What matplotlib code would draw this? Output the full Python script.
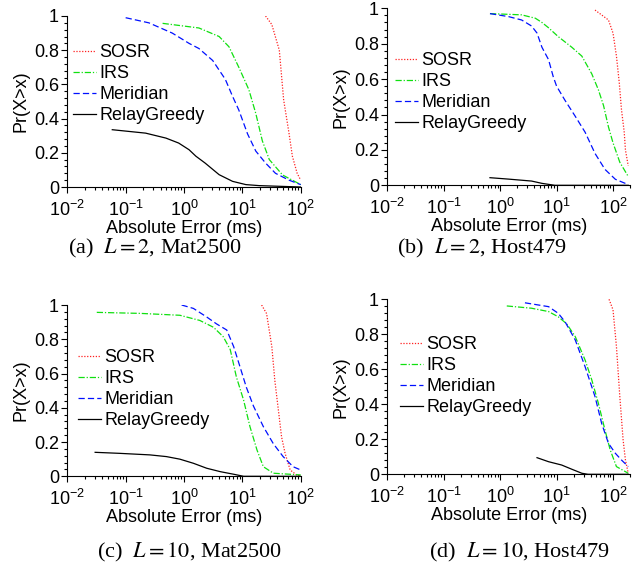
import numpy as np
import matplotlib
matplotlib.use("Agg")
import matplotlib.pyplot as plt
from matplotlib.ticker import MultipleLocator, FuncFormatter

plt.rcParams["font.family"] = ["Liberation Sans", "DejaVu Sans"]
plt.rcParams["mathtext.fontset"] = "stix"

# ---------------------------------------------------------------- data
# (a) L = 2, Mat2500
A_SOSR_X = [25, 32, 43, 51, 63, 72, 87, 100]
A_SOSR_Y = [1.0, 0.95, 0.80, 0.51, 0.315, 0.18, 0.08, 0.04]
A_IRS_X = [0.43, 1.8, 4.0, 5.9, 8.7, 12.9, 17, 22, 29, 49, 100]
A_IRS_Y = [0.957, 0.93, 0.88, 0.82, 0.70, 0.57, 0.43, 0.27, 0.16, 0.07, 0.014]
A_MER_X = [0.1, 0.25, 0.63, 1.22, 1.8, 3.1, 5.1, 6.8, 8.7, 12.3, 17, 25, 37, 63, 100]
A_MER_Y = [0.99, 0.96, 0.90, 0.84, 0.81, 0.74, 0.63, 0.53, 0.45, 0.31, 0.21, 0.14, 0.08, 0.04, 0.014]
A_RG_X = [0.059, 0.22, 0.49, 0.81, 1.22, 1.6, 2.3, 4.0, 6.8, 11.5, 19.5, 100]
A_RG_Y = [0.335, 0.315, 0.286, 0.257, 0.218, 0.18, 0.14, 0.072, 0.033, 0.014, 0.008, 0.0]

# (b) L = 2, Host479
B_SOSR_X = [48, 83, 100, 115, 129, 141, 158, 166, 186]
B_SOSR_Y = [0.99, 0.934, 0.86, 0.73, 0.58, 0.43, 0.30, 0.20, 0.11]
B_IRS_X = [0.66, 2.4, 4.2, 5.5, 7.2, 10.7, 18.6, 28, 42, 55, 68, 83, 100, 132, 186]
B_IRS_Y = [0.97, 0.963, 0.944, 0.92, 0.89, 0.84, 0.78, 0.73, 0.63, 0.54, 0.45, 0.33, 0.24, 0.13, 0.05]
B_MER_X = [0.66, 1.41, 2.4, 3.6, 4.5, 5.5, 7.2, 8.7, 10, 14.1, 21.4, 32, 48, 72, 110, 186]
B_MER_Y = [0.97, 0.953, 0.934, 0.90, 0.86, 0.78, 0.71, 0.615, 0.56, 0.48, 0.39, 0.30, 0.18, 0.09, 0.034, 0.004]
B_RG_X = [0.66, 1.4, 3.6, 5.5, 9.3, 186]
B_RG_Y = [0.043, 0.035, 0.024, 0.011, 0.0, 0.0]

# (c) L = 10, Mat2500
C_SOSR_X = [21.4, 26, 32, 36, 42, 47, 54, 66, 85, 100]
C_SOSR_Y = [1.0, 0.95, 0.757, 0.56, 0.37, 0.23, 0.134, 0.037, 0.008, 0.002]
C_IRS_X = [0.032, 0.18, 0.85, 1.86, 3.2, 4.7, 6.2, 7.9, 10.5, 13.5, 17.8, 22.9, 34, 100]
C_IRS_Y = [0.957, 0.951, 0.94, 0.91, 0.87, 0.815, 0.74, 0.58, 0.445, 0.29, 0.154, 0.056, 0.018, 0.008]
C_MER_X = [0.91, 1.45, 2.45, 3.6, 5.4, 7.1, 9.1, 11.7, 15.5, 22.9, 34, 50, 74, 100]
C_MER_Y = [1.0, 0.98, 0.93, 0.89, 0.854, 0.757, 0.64, 0.52, 0.41, 0.29, 0.19, 0.115, 0.056, 0.037]
C_RG_X = [0.03, 0.079, 0.26, 0.5, 0.85, 1.45, 2.45, 4.2, 7.1, 10.5, 100]
C_RG_Y = [0.14, 0.134, 0.125, 0.115, 0.10, 0.076, 0.047, 0.027, 0.012, 0.0, 0.0]

# (d) L = 10, Host479
D_SOSR_X = [85, 100, 115, 132, 151, 166, 186]
D_SOSR_Y = [1.0, 0.94, 0.73, 0.444, 0.196, 0.082, 0.006]
D_IRS_X = [1.31, 3.6, 7.2, 10.7, 15.1, 21.4, 32, 42, 55, 72, 89, 115, 186]
D_IRS_Y = [0.962, 0.949, 0.93, 0.90, 0.86, 0.787, 0.653, 0.54, 0.406, 0.253, 0.14, 0.044, 0.006]
D_MER_X = [2.75, 7.2, 10.7, 14.1, 21.4, 32, 48, 63, 83, 110, 141, 186]
D_MER_Y = [0.98, 0.958, 0.92, 0.872, 0.768, 0.615, 0.444, 0.29, 0.177, 0.12, 0.082, 0.044]
D_RG_X = [4.5, 7.2, 12.3, 18.6, 28, 36, 186]
D_RG_Y = [0.095, 0.072, 0.053, 0.029, 0.006, 0.0, 0.0]

LABELS = ["SOSR", "IRS", "Meridian", "RelayGreedy"]
CAPTIONS = [r"(a)  $L=2$, Mat2500", r"(b)  $L=2$, Host479",
            r"(c)  $L=10$, Mat2500", r"(d)  $L=10$, Host479"]

PANELS = [
    [(A_SOSR_X, A_SOSR_Y), (A_IRS_X, A_IRS_Y), (A_MER_X, A_MER_Y), (A_RG_X, A_RG_Y)],
    [(B_SOSR_X, B_SOSR_Y), (B_IRS_X, B_IRS_Y), (B_MER_X, B_MER_Y), (B_RG_X, B_RG_Y)],
    [(C_SOSR_X, C_SOSR_Y), (C_IRS_X, C_IRS_Y), (C_MER_X, C_MER_Y), (C_RG_X, C_RG_Y)],
    [(D_SOSR_X, D_SOSR_Y), (D_IRS_X, D_IRS_Y), (D_MER_X, D_MER_Y), (D_RG_X, D_RG_Y)],
]
XMAX = [100, 200, 100, 200]

# ---------------------------------------------------------------- layout (pixels)
W, H = 644, 565
# left, right, top(y=1), bottom(y=0)
BOXES = [(67.3, 300.7, 16, 187), (387.3, 630, 8.3, 185.3),
         (67.3, 300.7, 305, 476.3), (387.3, 630, 299.3, 474.3)]
LEG_POS = [(75, 41), (397, 49), (80, 346), (402, 333)]
CAP_POS = [(68, 248), (397, 248), (97, 552), (429, 552)]

STYLES = [dict(color="#ff2020", ls=(0, (1, 1.3))),
          dict(color="#10e010", ls=(0, (5, 1.5, 1, 1.5))),
          dict(color="#0010ff", ls=(0, (5, 2.5))),
          dict(color="black", ls="-")]

fig = plt.figure(figsize=(W / 100, H / 100), dpi=100)

for i, (l, r, t, b) in enumerate(BOXES):
    ax = fig.add_axes([l / W, 1 - b / H, (r - l) / W, (b - t) / H])
    for (xs, ys), lab, st in zip(PANELS[i], LABELS, STYLES):
        ax.plot(xs, ys, lw=0.9, label=lab, **st)
    ax.set_xscale("log")
    ax.set_xlim(1e-2, XMAX[i])
    ax.set_ylim(0, 1)
    ax.set_xticks([1e-2, 1e-1, 1e0, 1e1, 1e2])
    ax.yaxis.set_major_locator(MultipleLocator(0.2))
    ax.yaxis.set_minor_locator(MultipleLocator(0.04))
    ax.yaxis.set_major_formatter(FuncFormatter(lambda v, p: "%g" % round(v, 2)))
    for s in ("top", "right"):
        ax.spines[s].set_visible(False)
    ax.tick_params(which="both", direction="out", labelsize=13, width=0.8)
    ax.tick_params(which="major", length=4, pad=2)
    ax.tick_params(which="minor", length=2)
    ax.tick_params(axis="x", which="major", pad=5)
    ax.set_xlabel("Absolute Error (ms)", fontsize=13, labelpad=0)
    ax.set_ylabel("Pr(X>x)", fontsize=13, labelpad=3)

    lx, ly = LEG_POS[i]
    ax.legend(loc="upper left", bbox_to_anchor=((lx - 2) / W, 1 - (ly + 3) / H),
              bbox_transform=fig.transFigure, frameon=False, fontsize=13,
              borderpad=0, borderaxespad=0, handlelength=1.25,
              handletextpad=0.2, labelspacing=0.22)

    cx, cy = CAP_POS[i]
    fig.text(cx / W, 1 - cy / H, CAPTIONS[i], ha="left", va="center",
             fontsize=16, family=["Liberation Serif", "DejaVu Serif"])

fig.savefig("out.png", dpi=100)
